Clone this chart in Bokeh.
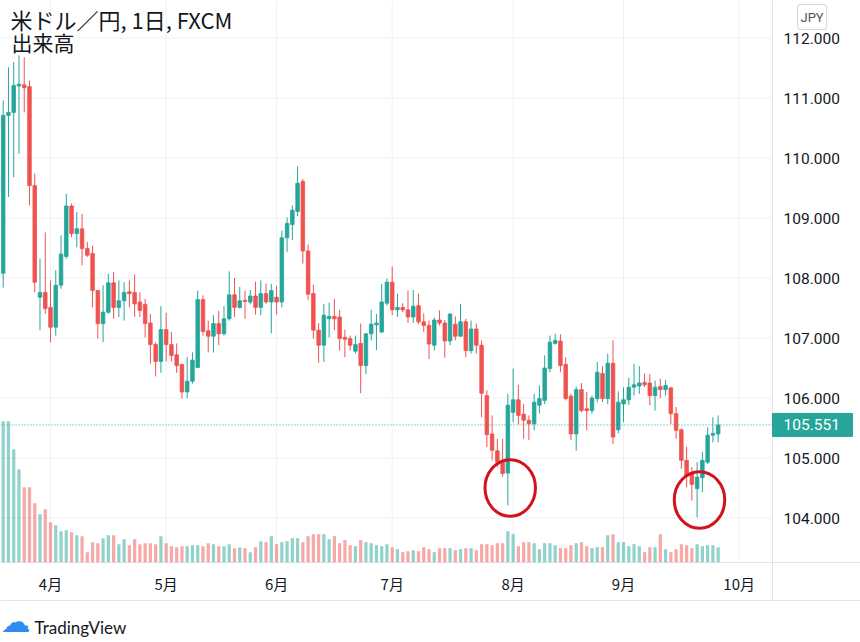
from bokeh.plotting import figure
from bokeh.models import Range1d, Label, ColumnDataSource
from bokeh.core.properties import value
from bokeh.embed import file_html
from bokeh.resources import INLINE

# ---- data (USD/JPY daily, FXCM, 2020-03-19 .. 2020-09-25) ----
opens = [108.08, 110.71, 110.76, 111.20, 111.22, 111.19, 109.54, 107.68, 107.76, 107.51,
         107.18, 107.88, 108.36, 109.20, 108.74, 108.82, 108.49, 108.41, 107.79, 107.24,
         107.43, 107.92, 107.51, 107.62, 107.77, 107.76, 107.60, 107.56, 107.25, 106.89,
         106.61, 107.14, 106.89, 106.72, 106.56, 106.10, 106.28, 106.51, 107.64, 107.12,
         107.03, 107.24, 107.07, 107.32, 107.72, 107.51, 107.63, 107.60, 107.70, 107.51,
         107.74, 107.60, 107.68, 107.60, 108.67, 108.89, 109.11, 109.61, 108.45, 107.74,
         107.13, 106.88, 107.32, 107.36, 107.35, 107.01, 106.99, 106.78, 106.91, 106.54,
         107.07, 107.22, 107.10, 107.58, 107.93, 107.47, 107.51, 107.47, 107.35, 107.54,
         107.27, 107.21, 106.88, 107.30, 107.25, 106.95, 107.23, 107.03, 107.27, 106.79,
         107.15, 106.88, 106.04, 105.40, 105.12, 104.93, 104.75, 105.76, 105.97, 105.73,
         105.63, 105.57, 105.88, 105.96, 106.49, 106.91, 106.95, 106.56, 106.03, 105.40,
         106.14, 105.82, 105.79, 105.99, 106.41, 105.99, 106.58, 105.47, 105.90, 105.97,
         106.18, 106.20, 106.26, 106.25, 106.04, 106.19, 106.14, 106.17, 105.74, 105.47,
         104.96, 104.76, 104.49, 104.67, 104.93, 105.38, 105.40]
highs = [110.96, 111.51, 111.60, 111.71, 111.68, 111.29, 109.74, 108.32, 108.76, 107.96,
         108.13, 108.71, 109.40, 109.24, 109.10, 109.07, 108.60, 108.54, 107.80, 107.88,
         108.07, 108.10, 107.96, 107.93, 107.96, 108.06, 107.76, 107.65, 107.40, 106.93,
         107.53, 107.42, 107.10, 106.91, 106.57, 106.68, 106.76, 107.79, 107.71, 107.29,
         107.38, 107.45, 107.53, 108.11, 108.00, 107.85, 107.79, 107.80, 107.94, 107.96,
         107.91, 107.90, 107.87, 108.79, 109.01, 109.21, 109.86, 109.65, 108.56, 107.89,
         107.25, 107.57, 107.59, 107.65, 107.47, 107.14, 107.04, 107.04, 107.24, 107.08,
         107.47, 107.40, 107.90, 107.99, 108.19, 107.74, 107.58, 107.79, 107.80, 107.74,
         107.41, 107.29, 107.34, 107.46, 107.30, 107.41, 107.36, 107.57, 107.32, 107.29,
         107.24, 106.96, 106.13, 105.71, 105.32, 105.32, 106.07, 106.49, 106.22, 105.90,
         105.71, 106.07, 106.21, 106.71, 107.04, 107.07, 107.06, 106.68, 106.07, 106.19,
         106.25, 106.10, 106.04, 106.60, 106.53, 106.74, 106.96, 106.11, 106.18, 106.34,
         106.57, 106.53, 106.41, 106.40, 106.29, 106.32, 106.30, 106.18, 105.85, 105.49,
         105.19, 104.85, 104.93, 105.10, 105.51, 105.68, 105.71]
lows = [107.84, 109.35, 109.68, 110.07, 110.76, 109.21, 107.76, 107.13, 107.40, 106.93,
        107.04, 107.82, 108.32, 108.68, 108.51, 108.21, 108.35, 107.51, 106.99, 106.93,
        107.40, 107.32, 107.35, 107.29, 107.51, 107.35, 107.35, 107.01, 106.57, 106.36,
        106.42, 106.61, 106.61, 106.42, 105.99, 106.00, 106.24, 106.50, 107.04, 106.76,
        106.76, 106.88, 107.04, 107.29, 107.35, 107.49, 107.32, 107.56, 107.39, 107.38,
        107.57, 107.08, 107.39, 107.51, 108.43, 108.63, 109.03, 108.24, 107.63, 106.99,
        106.59, 106.60, 107.01, 107.13, 106.79, 106.68, 106.79, 106.74, 106.08, 106.40,
        106.96, 106.80, 107.08, 107.54, 107.38, 107.35, 107.43, 107.25, 107.25, 107.23,
        107.10, 106.65, 106.79, 107.21, 106.67, 106.88, 106.96, 107.02, 106.68, 106.74,
        106.74, 105.68, 105.18, 104.96, 104.85, 104.69, 104.21, 105.60, 105.56, 105.32,
        105.30, 105.46, 105.74, 105.90, 106.43, 106.89, 106.43, 105.96, 105.30, 105.12,
        105.76, 105.46, 105.74, 105.93, 105.93, 105.90, 105.23, 105.41, 105.60, 105.88,
        106.04, 106.07, 106.18, 105.88, 105.79, 106.00, 106.04, 105.57, 105.32, 104.82,
        104.51, 104.29, 104.01, 104.43, 104.90, 105.26, 105.26]
closes = [110.71, 110.76, 111.21, 111.23, 111.17, 109.54, 107.93, 107.76, 107.49, 107.18,
          107.88, 108.40, 109.20, 108.74, 108.82, 108.49, 108.38, 107.79, 107.24, 107.43,
          107.92, 107.51, 107.62, 107.76, 107.74, 107.57, 107.46, 107.24, 106.89, 106.61,
          107.14, 106.89, 106.71, 106.54, 106.10, 106.28, 106.63, 107.64, 107.11, 107.03,
          107.24, 107.07, 107.32, 107.72, 107.51, 107.62, 107.61, 107.70, 107.51, 107.74,
          107.60, 107.79, 107.60, 108.67, 108.91, 109.13, 109.58, 108.45, 107.73, 107.13,
          106.88, 107.38, 107.36, 107.32, 106.99, 106.98, 106.88, 106.89, 106.54, 107.07,
          107.23, 107.25, 107.60, 107.93, 107.47, 107.51, 107.47, 107.35, 107.53, 107.27,
          107.21, 106.90, 107.30, 107.25, 106.95, 107.40, 107.03, 107.27, 106.79, 107.15,
          106.88, 106.08, 105.39, 105.13, 104.93, 104.74, 105.88, 105.97, 105.71, 105.63,
          105.57, 105.93, 105.99, 106.50, 106.93, 106.96, 106.54, 105.99, 105.40, 106.14,
          105.79, 105.79, 106.00, 106.43, 105.99, 106.58, 105.35, 105.93, 105.97, 106.18,
          106.22, 106.25, 106.22, 106.04, 106.18, 106.14, 106.21, 105.74, 105.46, 104.96,
          104.70, 104.56, 104.68, 104.96, 105.38, 105.41, 105.551]
volumes = [141, 141, 113, 93, 75, 75, 59, 48, 53, 40, 37, 31, 32, 30, 27, 26, 10, 20, 19, 24,
           27, 27, 18, 23, 17, 23, 18, 19, 19, 18, 26, 19, 16, 15, 16, 16, 17, 17, 16, 19,
           18, 16, 16, 18, 14, 15, 14, 10, 15, 21, 20, 26, 18, 20, 21, 24, 24, 20, 26, 28,
           28, 28, 23, 26, 19, 22, 17, 16, 22, 20, 19, 17, 16, 18, 15, 13, 10, 11, 12, 11,
           15, 13, 10, 14, 14, 14, 12, 13, 14, 14, 12, 18, 18, 17, 19, 19, 31, 28, 16, 20,
           20, 19, 13, 19, 19, 17, 14, 14, 17, 19, 20, 16, 14, 15, 15, 27, 28, 20, 20, 16,
           18, 16, 10, 15, 15, 28, 13, 10, 13, 18, 17, 14, 18, 16, 17, 17, 15]
month_idx = [9, 31, 52, 74, 97, 118, 140]
month_labels = ["4月", "5月", "6月", "7月", "8月", "9月", "10月"]
price_ticks = [104, 105, 106, 107, 108, 109, 110, 111, 112]
circled_idx = [96, 132]

# ---- layout calibration (page pixels; figure sits at the page origin) ----
W, H = 860, 642
PX_BAR = 5.257                       # pixels per bar
X0_PX = 2.7                          # page x of bar 0
def x_at(px):                        # bar coordinate at a page x pixel
    return (px - X0_PX) / PX_BAR
PX_YEN = 60.0
def y_at(py):                        # price value at a page y pixel
    return 105 - (py - 457.5) / PX_YEN
X_LO, X_SEP, X_HI = x_at(0), x_at(772), x_at(W)
P_LO, P_HI = y_at(H), y_at(0)
VOL_BASE = 561.7                     # page y of volume baseline (1 unit = 1 px)

UP, DOWN = "#26a69a", "#ef5350"
GRID = "#eef0f4"
BORDER = "#e0e3eb"
TXT = "#131722"

n = len(closes)
xs = list(range(n))
colors = [UP if c >= o else DOWN for o, c in zip(opens, closes)]
src = ColumnDataSource(dict(
    x=xs, o=opens, h=highs, l=lows, c=closes, v=volumes,
    top=[max(o, c) for o, c in zip(opens, closes)],
    bot=[min(o, c) for o, c in zip(opens, closes)],
    color=colors))

p = figure(width=W, height=H, title=None, output_backend="svg", toolbar_location=None,
           x_range=Range1d(X_LO, X_HI), y_range=Range1d(P_LO, P_HI),
           x_axis_location=None, y_axis_location=None,
           min_border=0, min_border_left=0, min_border_right=0,
           min_border_top=0, min_border_bottom=0)
p.extra_y_ranges = {"vol": Range1d(VOL_BASE - H, VOL_BASE)}
p.outline_line_color = None
p.background_fill_color = "white"
p.border_fill_color = "white"
p.xgrid.visible = False
p.ygrid.visible = False

# grid lines (chart pane only)
p.segment(x0=[X_LO] * len(price_ticks), x1=[X_SEP] * len(price_ticks),
          y0=price_ticks, y1=price_ticks, line_color=GRID, line_width=1)
p.segment(x0=month_idx, x1=month_idx, y0=[y_at(562)] * len(month_idx),
          y1=[P_HI] * len(month_idx), line_color=GRID, line_width=1)

# pane borders
p.segment(x0=[X_LO, X_LO], x1=[X_HI, X_HI], y0=[y_at(562), y_at(600)],
          y1=[y_at(562), y_at(600)], line_color=BORDER, line_width=1)
p.segment(x0=[X_SEP], x1=[X_SEP], y0=[y_at(600)], y1=[P_HI], line_color=BORDER, line_width=1)

# volume
p.vbar(x="x", width=0.62, top="v", bottom=0, y_range_name="vol", source=src,
       fill_color="color", fill_alpha=0.5, line_color=None)
# candles
p.segment(x0="x", y0="l", x1="x", y1="h", line_color="color", line_width=1, source=src)
p.vbar(x="x", width=0.68, top="top", bottom="bot", fill_color="color", line_color="color",
       line_width=0.8, source=src)

# last price line
p.segment(x0=[X_LO], x1=[X_SEP], y0=[closes[-1]], y1=[closes[-1]], line_color=UP,
          line_dash="1 2", line_width=1)

# circles
p.ellipse(x=[i + 0.45 for i in circled_idx], y=[lows[i] + 0.29 for i in circled_idx],
          width=9.6, height=0.94, fill_color=None, line_color="#d3121c", line_width=3)

# price scale labels
p.text(x=[x_at(783)] * len(price_ticks), y=price_ticks,
       text=["%.3f" % t for t in price_ticks], text_font=value("Roboto"),
       text_font_size=value("15.5px"), text_color=TXT, text_baseline="middle",
       text_align="left")
# last price tag
tag_h = 11.5 / PX_YEN
p.quad(left=[X_SEP], right=[x_at(852)], top=[closes[-1] + tag_h], bottom=[closes[-1] - tag_h],
       fill_color=UP, line_color=UP)
p.text(x=[x_at(783)], y=[closes[-1]], text=["%.3f" % closes[-1]], text_font=value("Roboto"),
       text_font_size=value("15.5px"), text_color="white", text_baseline="middle",
       text_align="left")
# time scale labels
p.text(x=month_idx, y=[y_at(583)] * len(month_idx), text=month_labels,
       text_font=value("Noto Sans CJK JP"), text_font_size=value("15px"), text_color=TXT,
       text_baseline="middle", text_align="center")

# legend texts
p.add_layout(Label(x=10, y=H - 2, x_units="screen", y_units="screen",
                   text="米ドル／円, 1日, FXCM", text_font="Noto Sans CJK JP",
                   text_font_size="22px", text_color=TXT, text_baseline="top"))
p.add_layout(Label(x=11, y=H - 26, x_units="screen", y_units="screen",
                   text="出来高", text_font="Noto Sans CJK JP",
                   text_font_size="21px", text_color=TXT, text_baseline="top"))

# currency box
p.add_layout(Label(x=797, y=H - 16.5, x_units="screen", y_units="screen", text="JPY",
                   text_font="Roboto", text_font_size="13px", text_color="#50535e",
                   text_baseline="middle", border_line_color="#d1d4dc",
                   border_radius=3, padding=(3, 5)))
# brand
p.add_layout(Label(x=0, y=H - 621, x_units="screen", y_units="screen", text="☁",
                   text_font="DejaVu Sans", text_font_size="30px", text_color="#2f8cf0",
                   text_baseline="middle"))
p.add_layout(Label(x=34, y=H - 627, x_units="screen", y_units="screen", text="TradingView",
                   text_font="Lato", text_font_size="17px", text_color=TXT,
                   text_baseline="middle"))

open("out.html", "w").write(file_html(p, INLINE))
